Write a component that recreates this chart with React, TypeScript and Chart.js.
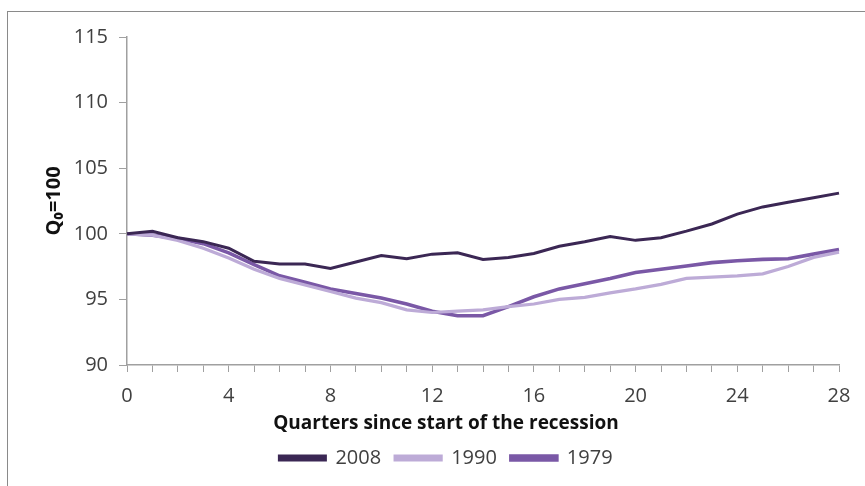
import React, { useEffect, useRef } from 'react';
import { Chart, registerables } from 'chart.js';

Chart.register(...registerables);

const quarters = ['0', '1', '2', '3', '4', '5', '6', '7', '8', '9', '10', '11', '12', '13', '14',
  '15', '16', '17', '18', '19', '20', '21', '22', '23', '24', '25', '26', '27', '28'];

const series2008 = [100, 100.2, 99.7, 99.4, 98.9, 97.9, 97.7, 97.7, 97.35, 97.85, 98.35, 98.1, 98.45, 98.55,
  98.05, 98.2, 98.5, 99.05, 99.4, 99.8, 99.5, 99.7, 100.2, 100.75, 101.5, 102.05, 102.4, 102.75, 103.1];
const series1990 = [100, 99.9, 99.5, 98.9, 98.15, 97.3, 96.6, 96.1, 95.6, 95.1, 94.75, 94.2, 94.0, 94.1,
  94.2, 94.45, 94.65, 95.0, 95.15, 95.5, 95.8, 96.15, 96.6, 96.7, 96.8, 96.95, 97.5, 98.2, 98.6];
const series1979 = [100, 99.9, 99.65, 99.25, 98.55, 97.65, 96.8, 96.3, 95.8, 95.45, 95.1, 94.65, 94.1, 93.75,
  93.75, 94.45, 95.2, 95.8, 96.2, 96.6, 97.05, 97.3, 97.55, 97.8, 97.95, 98.05, 98.1, 98.45, 98.8];

const FONT = '"Open Sans", sans-serif';
const TEXT = '#404040';
const AXIS = '#a0a0a0';

const RecessionChart: React.FC = () => {
  const canvasRef = useRef<HTMLCanvasElement | null>(null);

  useEffect(() => {
    if (!canvasRef.current) return;
    const ctx = canvasRef.current.getContext('2d');
    if (!ctx) return;

    const chart = new Chart(ctx, {
      type: 'line',
      data: {
        labels: quarters,
        datasets: [
          { label: '2008', data: series2008, borderColor: '#3b2754', backgroundColor: '#3b2754', borderWidth: 3, pointRadius: 0, tension: 0 },
          { label: '1990', data: series1990, borderColor: '#bdabd7', backgroundColor: '#bdabd7', borderWidth: 3.2, pointRadius: 0, tension: 0 },
          { label: '1979', data: series1979, borderColor: '#7a58a6', backgroundColor: '#7a58a6', borderWidth: 3.6, pointRadius: 0, tension: 0 },
        ],
      },
      options: {
        responsive: false,
        animation: false,
        layout: { padding: { left: 53, right: 26, top: 37, bottom: 8 } },
        plugins: {
          tooltip: { enabled: false },
          title: {
            display: true,
            position: 'bottom',
            text: 'Quarters since start of the recession',
            color: '#111',
            font: { family: FONT, size: 19, weight: 'bold', lineHeight: 1 },
            padding: { top: 0, bottom: 1 },
            weight: 500,
          } as any,
          legend: {
            position: 'bottom',
            labels: {
              color: TEXT,
              font: { family: FONT, size: 20 },
              boxWidth: 46,
              boxHeight: 4,
              padding: 14,
            },
          },
        },
        scales: {
          x: {
            offset: false,
            afterFit: (scale: any) => { scale.height = 49; },
            grid: { display: true, drawOnChartArea: false, drawTicks: true, tickLength: 7, color: AXIS },
            border: { color: AXIS, width: 1.5 },
            ticks: {
              autoSkip: false,
              maxRotation: 0,
              color: TEXT,
              font: { family: FONT, size: 20 },
              padding: 12,
              callback: (_v: any, i: number) => (i % 4 === 0 ? quarters[i] : ''),
            },
          },
          y: {
            min: 90,
            max: 115,
            afterFit: (scale: any) => { scale.width = 74; },
            grid: { display: true, drawOnChartArea: false, drawTicks: true, tickLength: 8, color: AXIS },
            border: { color: AXIS, width: 1.5 },
            ticks: { stepSize: 5, color: TEXT, font: { family: FONT, size: 20 }, padding: 11 },
            title: {
              display: true,
              text: 'Q\u2080=100',
              color: '#111',
              font: { family: FONT, size: 20, weight: 'bold' },
              padding: { top: -11, bottom: 0 },
            },
          },
        },
      },
    });

    return () => chart.destroy();
  }, []);

  return (
    <div style={{ position: 'absolute', left: 0, top: 0, width: 865, height: 486, overflow: 'hidden', background: '#fff' }}>
      <div style={{ position: 'absolute', left: 7, top: 11, width: 900, height: 520, borderTop: '1.5px solid #8a8a8a', borderLeft: '1.5px solid #8a8a8a' }} />
      <canvas ref={canvasRef} width={865} height={486} style={{ position: 'absolute', left: 0, top: 0 }} />
    </div>
  );
};

export default function App() {
  return <RecessionChart />;
}
